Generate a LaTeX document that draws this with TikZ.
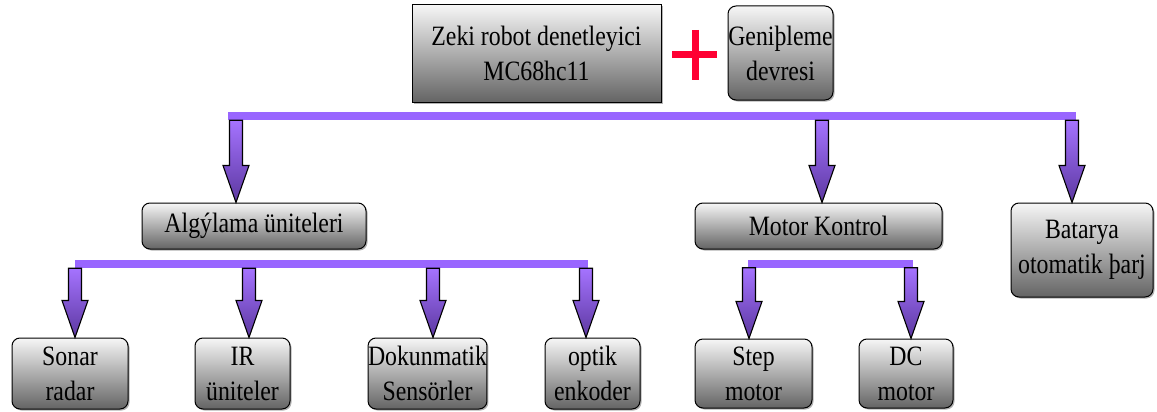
\documentclass[tikz,border=0pt]{standalone}
\usepackage{fontspec}
\setmainfont{Liberation Serif}[FakeStretch=0.85]
\usetikzlibrary{shadows, calc}
\definecolor{busviolet}{RGB}{153,102,255}
\definecolor{arrowlight}{RGB}{165,115,255}
\definecolor{arrowdark}{RGB}{92,56,160}
\definecolor{boxlight}{RGB}{246,246,246}
\definecolor{boxdark}{RGB}{100,100,100}
\definecolor{plusred}{RGB}{255,0,51}

\tikzset{
  unit/.style = {draw, line width=1pt, rounded corners=8pt, top color=boxlight, bottom color=boxdark,
                 drop shadow={shadow xshift=1.5pt, shadow yshift=-1.5pt, opacity=.6}},
  bus/.style = {fill=busviolet, minimum height=8pt},
  feedarrow/.style = {draw=black, line width=1.1pt, line join=miter, top color=arrowlight, bottom color=arrowdark}
}

% block arrow: bus node, x position, target node
\newcommand{\feed}[3]{
  \path[feedarrow] let \p1 = (#1.south), \p2 = (#3.north) in
    (#2pt-6.5pt,\y1) -- (#2pt+6.5pt,\y1) -- (#2pt+6.5pt,\y2+37pt) -- (#2pt+13pt,\y2+37pt)
    -- (#2pt,\y2) -- (#2pt-13pt,\y2+37pt) -- (#2pt-6.5pt,\y2+37pt) -- cycle;
}

\begin{document}
\begin{tikzpicture}[x=1pt, y=-1pt]
  \useasboundingbox (0,0) rectangle (1157,412);
  \begin{scope}[every node/.style = {font=\fontsize{28}{35}\selectfont, align=center, inner sep=0pt}]
    % top level
    \node[unit, rounded corners=0pt, minimum width=249pt, minimum height=97pt] (ctrl) at (536.5,53.5) {Zeki robot denetleyici\\MC68hc11};
    \node[unit, minimum width=105pt, minimum height=94pt] (expn) at (780.5,53) {Geniþleme\\devresi};
    \draw[plusred, line width=7pt] (672,55) -- (717,55) (695,30) -- (695,80);

    % buses
    \node[bus, minimum width=848pt] (bus1) at (652,116) {};
    \node[bus, minimum width=513pt] (bus2) at (331.5,264) {};
    \node[bus, minimum width=165pt] (bus3) at (830.5,263.5) {};

    % second level
    \node[unit, minimum width=224pt, minimum height=46pt] (sense) at (254,226) {Algýlama üniteleri};
    \node[unit, minimum width=247pt, minimum height=46pt] (motor) at (818.5,226) {Motor Kontrol};
    \node[unit, minimum width=142pt, minimum height=94pt] (batt) at (1082,250) {Batarya\\otomatik þarj};

    % third level
    \node[unit, minimum width=116pt, minimum height=71pt] (sonar) at (70,373.5) {Sonar\\radar};
    \node[unit, minimum width=95pt, minimum height=71pt] (ir) at (242.5,373.5) {IR\\üniteler};
    \node[unit, minimum width=115pt, minimum height=71pt] (touch) at (427.5,373.5) {Dokunmatik\\Sensörler};
    \node[unit, minimum width=95pt, minimum height=71pt] (optik) at (592.5,373.5) {optik\\enkoder};
    \node[unit, minimum width=117pt, minimum height=69pt] (step) at (753.5,373.5) {Step\\motor};
    \node[unit, minimum width=94pt, minimum height=69pt] (dc) at (906,373.5) {DC\\motor};
  \end{scope}

  % arrows
  \feed{bus1}{236}{sense}
  \feed{bus1}{822}{motor}
  \feed{bus1}{1072}{batt}
  \feed{bus2}{75}{sonar}
  \feed{bus2}{249}{ir}
  \feed{bus2}{433}{touch}
  \feed{bus2}{586}{optik}
  \feed{bus3}{749}{step}
  \feed{bus3}{911}{dc}
\end{tikzpicture}
\end{document}
